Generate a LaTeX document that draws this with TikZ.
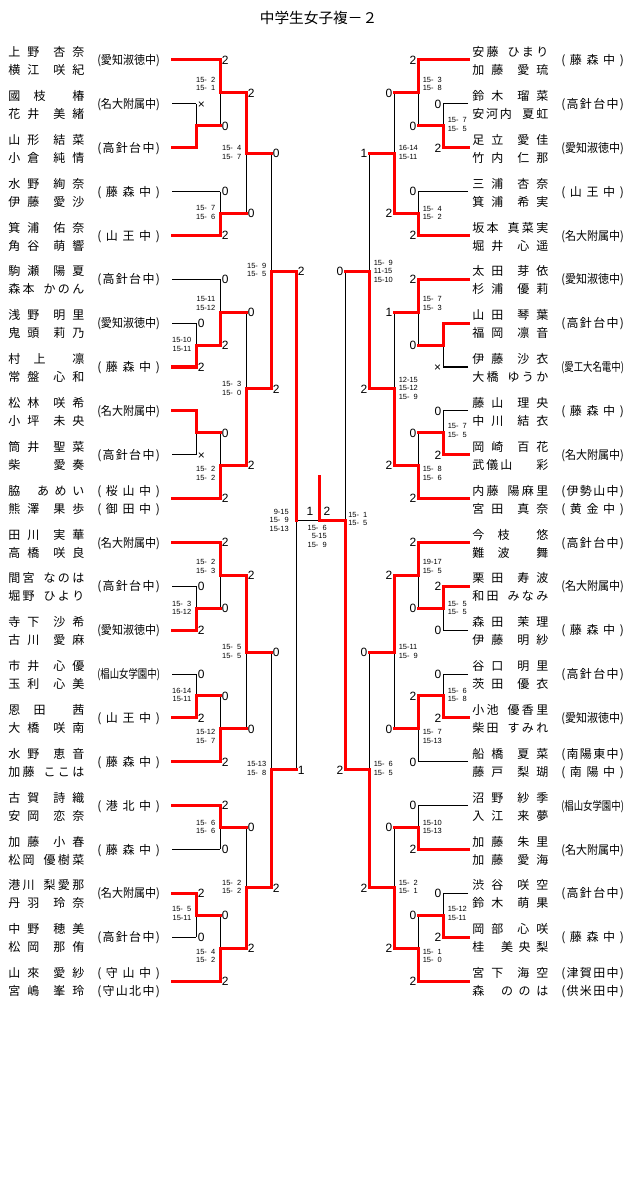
\documentclass[tikz,border=0pt]{standalone}
\usepackage{fontspec}
\usepackage{graphicx}
\setmainfont{Liberation Sans}
\newfontfamily\jp{Noto Sans CJK JP}
\pgfdeclarelayer{bg}
\pgfsetlayers{bg,main}
\newcommand\jg{\hfil}
\newcommand\z{\hphantom{0}}
\newcounter{nc}
\newcommand\schL[1]{\resizebox{47pt}{\height}{(#1)}}
\newcommand\schS[1]{\makebox[47pt][s]{(\hfil #1\hfil)}}
\newcommand\schAI{\schL{愛知淑徳中}}
\newcommand\schMD{\schL{名大附属中}}
\newcommand\schSG{\schL{椙山女学園中}}
\newcommand\schKH{\schS{高\jg 針\jg 台\jg 中}}
\newcommand\schFM{\schS{藤\jg 森\jg 中}}
\newcommand\schSN{\schS{山\jg 王\jg 中}}
% match: x, y1, y2, xnext, winner (1 top, 2 bottom)
\newcommand\mt[5]{%
  \begin{pgfonlayer}{bg}\draw[lose] (#1,#2) -- (#1,#3);\end{pgfonlayer}%
  \pgfmathsetmacro\ym{(#2+#3)/2}%
  \ifnum#5=1 \draw[win] (#1,#2) -- (#1,\ym) -- (#4,\ym);\else\draw[win] (#1,#3) -- (#1,\ym) -- (#4,\ym);\fi}
\newcommand\tw[3]{\draw[win] (#1,#3) -- (#2,#3);}
\newcommand\tb[3]{\begin{pgfonlayer}{bg}\draw[lose] (#1,#3) -- (#2,#3);\end{pgfonlayer}}
\newcommand\LL[3]{\stepcounter{nc}\node[big,anchor=base west] (g\thenc) at (#1+1.5,#2+4.3) {#3};}
\newcommand\RL[3]{\stepcounter{nc}\node[big,anchor=base east] (g\thenc) at (#1-1.5,#2+4.3) {#3};}
\newcommand\LS[3]{\stepcounter{nc}\node[scl] (g\thenc) at (#1-4.5,#2) {#3};}
\newcommand\RS[3]{\stepcounter{nc}\node[scr] (g\thenc) at (#1+4.5,#2) {#3};}
\newcommand\team[6]{\stepcounter{nc}%
  \node[nm,anchor=base west] (p\thenc a) at (#1,#3-3.4) {\makebox[57pt][s]{#4}};%
  \node[nm,anchor=base west] (p\thenc b) at (#1,#3+14.6) {\makebox[57pt][s]{#5}};%
  \node[nm,anchor=base west] (p\thenc s) at (#2,#3+4.6) {#6};}
\newcommand\teamtwo[7]{\stepcounter{nc}%
  \node[nm,anchor=base west] (p\thenc a) at (#1,#3-3.4) {\makebox[57pt][s]{#4}};%
  \node[nm,anchor=base west] (p\thenc b) at (#1,#3+14.6) {\makebox[57pt][s]{#5}};%
  \node[nm,anchor=base west] (p\thenc s) at (#2,#3-3.4) {#6};%
  \node[nm,anchor=base west] (p\thenc t) at (#2,#3+14.6) {#7};}
\begin{document}
\begin{tikzpicture}[x=0.75pt,y=-0.75pt,
  win/.style={draw=red,line width=2.25pt,line cap=rect,line join=miter},
  lose/.style={draw=black,line width=0.75pt},
  nm/.style={font=\jp\fontsize{9}{9}\selectfont,inner sep=0pt},
  big/.style={font=\fontsize{9}{9}\selectfont,inner sep=0pt},
  scl/.style={font=\fontsize{5.6}{6.4}\selectfont,inner sep=0pt,align=right,anchor=east},
  scr/.style={font=\fontsize{5.6}{6.4}\selectfont,inner sep=0pt,align=left,anchor=west}]
\begin{pgfonlayer}{bg}
\fill[white] (0,0) rectangle (640,1201);
\end{pgfonlayer}
\useasboundingbox (0,0) rectangle (640,1201);

\node[font=\jp\fontsize{11}{11}\selectfont,inner sep=0pt] (title) at (318.5,18) {中学生女子複－２};

% ---------------- LEFT TEAMS ----------------
\team{8}{97}{60}{上\jg 野\jg\jg 杏\jg 奈}{横\jg 江\jg\jg 咲\jg 紀}{\schAI}
\team{8}{97}{103.86}{國\jg 枝\jg\jg 椿}{花\jg 井\jg\jg 美\jg 緒}{\schMD}
\team{8}{97}{147.71}{山\jg 形\jg\jg 結\jg 菜}{小\jg 倉\jg\jg 純\jg 情}{\schKH}
\team{8}{97}{191.57}{水\jg 野\jg\jg 絢\jg 奈}{伊\jg 藤\jg\jg 愛\jg 沙}{\schFM}
\team{8}{97}{235.43}{箕\jg 浦\jg\jg 佑\jg 奈}{角\jg 谷\jg\jg 萌\jg 響}{\schSN}
\team{8}{97}{279.29}{駒\jg 瀬\jg\jg 陽\jg 夏}{森\jg 本\jg\jg\jg\jg か\jg の\jg ん}{\schKH}
\team{8}{97}{323.14}{浅\jg 野\jg\jg 明\jg 里}{鬼\jg 頭\jg\jg 莉\jg 乃}{\schAI}
\team{8}{97}{367}{村\jg 上\jg\jg 凛}{常\jg 盤\jg\jg 心\jg 和}{\schFM}
\team{8}{97}{410.86}{松\jg 林\jg\jg 咲\jg 希}{小\jg 坪\jg\jg 未\jg 央}{\schMD}
\team{8}{97}{454.71}{筒\jg 井\jg\jg 聖\jg 菜}{柴\jg\jg\jg\jg\jg 愛\jg 奏}{\schKH}
\teamtwo{8}{97}{498.57}{脇\jg\jg\jg あ\jg め\jg い}{熊\jg 澤\jg\jg 果\jg 歩}{\schS{桜\jg 山\jg 中}}{\schS{御\jg 田\jg 中}}
\team{8}{97}{542.43}{田\jg 川\jg\jg 実\jg 華}{高\jg 橋\jg\jg 咲\jg 良}{\schMD}
\team{8}{97}{586.29}{間\jg 宮\jg\jg\jg\jg な\jg の\jg は}{堀\jg 野\jg\jg\jg\jg ひ\jg よ\jg り}{\schKH}
\team{8}{97}{630.14}{寺\jg 下\jg\jg 沙\jg 希}{古\jg 川\jg\jg 愛\jg 麻}{\schAI}
\team{8}{97}{674}{市\jg 井\jg\jg 心\jg 優}{玉\jg 利\jg\jg 心\jg 美}{\schSG}
\team{8}{97}{717.86}{恩\jg 田\jg\jg 茜}{大\jg 橋\jg\jg 咲\jg 南}{\schSN}
\team{8}{97}{761.71}{水\jg 野\jg\jg 恵\jg 音}{加\jg 藤\jg\jg\jg\jg こ\jg こ\jg は}{\schFM}
\team{8}{97}{805.57}{古\jg 賀\jg\jg 詩\jg 織}{安\jg 岡\jg\jg 恋\jg 奈}{\schS{港\jg 北\jg 中}}
\team{8}{97}{849.43}{加\jg 藤\jg\jg 小\jg 春}{松\jg 岡\jg\jg\jg\jg 優\jg 樹\jg 菜}{\schFM}
\team{8}{97}{893.29}{港\jg 川\jg\jg\jg\jg 梨\jg 愛\jg 那}{丹\jg 羽\jg\jg 玲\jg 奈}{\schMD}
\team{8}{97}{937.14}{中\jg 野\jg\jg 穂\jg 美}{松\jg 岡\jg\jg 那\jg 侑}{\schKH}
\teamtwo{8}{97}{981}{山\jg 來\jg\jg 愛\jg 紗}{宮\jg 嶋\jg\jg 峯\jg 玲}{\schS{守\jg 山\jg 中}}{\schS{守\jg 山\jg 北\jg 中}}

% ---------------- RIGHT TEAMS ----------------
\team{472}{561}{60}{安\jg 藤\jg\jg\jg\jg ひ\jg ま\jg り}{加\jg 藤\jg\jg 愛\jg 琉}{\schFM}
\team{472}{561}{103.86}{鈴\jg 木\jg\jg 瑠\jg 菜}{安\jg 河\jg 内\jg\jg\jg\jg\jg\jg 夏\jg 虹}{\schKH}
\team{472}{561}{147.71}{足\jg 立\jg\jg 愛\jg 佳}{竹\jg 内\jg\jg 仁\jg 那}{\schAI}
\team{472}{561}{191.57}{三\jg 浦\jg\jg 杏\jg 奈}{箕\jg 浦\jg\jg 希\jg 実}{\schSN}
\team{472}{561}{235.43}{坂\jg 本\jg\jg\jg\jg 真\jg 菜\jg 実}{堀\jg 井\jg\jg 心\jg 遥}{\schMD}
\team{472}{561}{279.29}{太\jg 田\jg\jg 芽\jg 依}{杉\jg 浦\jg\jg 優\jg 莉}{\schAI}
\team{472}{561}{323.14}{山\jg 田\jg\jg 琴\jg 葉}{福\jg 岡\jg\jg 凛\jg 音}{\schKH}
\team{472}{561}{367}{伊\jg 藤\jg\jg 沙\jg 衣}{大\jg 橋\jg\jg\jg\jg ゆ\jg う\jg か}{\schL{愛工大名電中}}
\team{472}{561}{410.86}{藤\jg 山\jg\jg 理\jg 央}{中\jg 川\jg\jg 結\jg 衣}{\schFM}
\team{472}{561}{454.71}{岡\jg 崎\jg\jg 百\jg 花}{武\jg 儀\jg 山\hskip 0pt plus 12fil 彩}{\schMD}
\teamtwo{472}{561}{498.57}{内\jg 藤\jg\jg\jg\jg 陽\jg 麻\jg 里}{宮\jg 田\jg\jg 真\jg 奈}{\schS{伊\jg 勢\jg 山\jg 中}}{\schS{黄\jg 金\jg 中}}
\team{472}{561}{542.43}{今\jg 枝\jg\jg 悠}{難\jg 波\jg\jg 舞}{\schKH}
\team{472}{561}{586.29}{栗\jg 田\jg\jg 寿\jg 波}{和\jg 田\jg\jg\jg\jg み\jg な\jg み}{\schMD}
\team{472}{561}{630.14}{森\jg 田\jg\jg 茉\jg 理}{伊\jg 藤\jg\jg 明\jg 紗}{\schFM}
\team{472}{561}{674}{谷\jg 口\jg\jg 明\jg 里}{茨\jg 田\jg\jg 優\jg 衣}{\schKH}
\team{472}{561}{717.86}{小\jg 池\jg\jg\jg\jg 優\jg 香\jg 里}{柴\jg 田\jg\jg\jg\jg す\jg み\jg れ}{\schAI}
\teamtwo{472}{561}{761.71}{船\jg 橋\jg\jg 夏\jg 菜}{藤\jg 戸\jg\jg 梨\jg 瑚}{\schS{南\jg 陽\jg 東\jg 中}}{\schS{南\jg 陽\jg 中}}
\team{472}{561}{805.57}{沼\jg 野\jg\jg 紗\jg 季}{入\jg 江\jg\jg 来\jg 夢}{\schSG}
\team{472}{561}{849.43}{加\jg 藤\jg\jg 朱\jg 里}{加\jg 藤\jg\jg 愛\jg 海}{\schMD}
\team{472}{561}{893.29}{渋\jg 谷\jg\jg 咲\jg 空}{鈴\jg 木\jg\jg 萌\jg 果}{\schKH}
\team{472}{561}{937.14}{岡\jg 部\jg\jg 心\jg 咲}{桂\jg\jg\jg 美\jg 央\jg 梨}{\schFM}
\teamtwo{472}{561}{981}{宮\jg 下\jg\jg 海\jg 空}{森\jg\jg\jg の\jg の\jg は}{\schS{津\jg 賀\jg 田\jg 中}}{\schS{供\jg 米\jg 田\jg 中}}

% ---------------- LEFT LINES ----------------
\tw{172}{220}{60}      \tb{172}{196}{103.86} \tw{172}{196}{147.71}
\tb{172}{220}{191.57}  \tw{172}{220}{235.43} \tb{172}{220}{279.29}
\tb{172}{196}{323.14}  \tw{172}{196}{367}    \tw{172}{196}{410.86}
\tb{172}{196}{454.71}  \tw{172}{220}{498.57} \tw{172}{220}{542.43}
\tb{172}{196}{586.29}  \tw{172}{196}{630.14} \tb{172}{196}{674}
\tw{172}{196}{717.86}  \tw{172}{220}{761.71} \tw{172}{220}{805.57}
\tb{172}{220}{849.43}  \tw{172}{196}{893.29} \tb{172}{196}{937.14}
\tw{172}{220}{981}

\mt{196}{103.86}{147.71}{220}{2}
\mt{196}{323.14}{367}{220}{2}
\mt{196}{410.86}{454.71}{220}{1}
\mt{196}{586.29}{630.14}{220}{2}
\mt{196}{674}{717.86}{220}{2}
\mt{196}{893.29}{937.14}{220}{1}
\mt{220}{60}{125.79}{246}{1}
\mt{220}{191.57}{235.43}{246}{2}
\mt{220}{279.29}{345.07}{246}{2}
\mt{220}{432.79}{498.57}{246}{2}
\mt{220}{542.43}{608.21}{246}{1}
\mt{220}{695.93}{761.71}{246}{2}
\mt{220}{805.57}{849.43}{246}{1}
\mt{220}{915.21}{981}{246}{2}
\mt{246}{92.89}{213.5}{271}{1}
\mt{246}{312.18}{465.68}{271}{2}
\mt{246}{575.32}{728.82}{271}{1}
\mt{246}{827.5}{948.11}{271}{2}
\mt{271}{153.19}{388.93}{296}{2}
\mt{271}{652.07}{887.8}{296}{2}

% ---------------- RIGHT LINES ----------------
\tw{468}{418}{60}      \tb{468}{443}{103.86} \tw{468}{443}{147.71}
\tb{468}{418}{191.57}  \tw{468}{418}{235.43} \tw{468}{418}{279.29}
\tw{468}{443}{323.14}  \tb{468}{443}{367}    \tb{468}{443}{410.86}
\tw{468}{443}{454.71}  \tw{468}{418}{498.57} \tw{468}{418}{542.43}
\tw{468}{443}{586.29}  \tb{468}{443}{630.14} \tb{468}{443}{674}
\tw{468}{443}{717.86}  \tb{468}{418}{761.71} \tb{468}{418}{805.57}
\tw{468}{418}{849.43}  \tb{468}{443}{893.29} \tw{468}{443}{937.14}
\tw{468}{418}{981}

\mt{443}{103.86}{147.71}{418}{2}
\mt{443}{323.14}{367}{418}{1}
\mt{443}{410.86}{454.71}{418}{2}
\mt{443}{586.29}{630.14}{418}{1}
\mt{443}{674}{717.86}{418}{2}
\mt{443}{893.29}{937.14}{418}{2}
\mt{418}{60}{125.79}{394}{1}
\mt{418}{191.57}{235.43}{394}{2}
\mt{418}{279.29}{345.07}{394}{1}
\mt{418}{432.79}{498.57}{394}{2}
\mt{418}{542.43}{608.21}{394}{1}
\mt{418}{695.93}{761.71}{394}{1}
\mt{418}{805.57}{849.43}{394}{2}
\mt{418}{915.21}{981}{394}{2}
\mt{394}{92.89}{213.5}{369}{2}
\mt{394}{312.18}{465.68}{369}{2}
\mt{394}{575.32}{728.82}{369}{1}
\mt{394}{827.5}{948.11}{369}{2}
\mt{369}{153.19}{388.93}{345}{2}
\mt{369}{652.07}{887.8}{345}{2}

% ---------------- CENTRE ----------------
\begin{pgfonlayer}{bg}
\draw[lose] (296,271.06) -- (296,769.94);
\draw[lose] (345,271.06) -- (345,769.94);
\draw[lose] (296,520.5) -- (345,520.5);
\end{pgfonlayer}
\draw[win] (296,271.06) -- (296,520.5);
\draw[win] (345,769.94) -- (345,520.5) -- (319,520.5) -- (319,476);
\node[big,anchor=base] (f1) at (310,515.3) {1};
\node[big,anchor=base] (f2) at (327,515.3) {2};
\node[scl] (fs) at (327,536) {15-\z6\\5-15\\15-\z9};

% ---------------- LEFT LABELS ----------------
\LL{220}{60}{2} \LL{196}{103.86}{×} \LL{220}{125.79}{0}
\LL{220}{191.57}{0} \LL{220}{235.43}{2} \LL{246}{92.89}{2} \LL{246}{213.5}{0}
\LL{271}{153.19}{0}
\LL{220}{279.29}{0} \LL{196}{323.14}{0} \LL{196}{367}{2} \LL{220}{345.07}{2}
\LL{246}{312.18}{0} \LL{220}{432.79}{0} \LL{196}{454.71}{×} \LL{220}{498.57}{2}
\LL{246}{465.68}{2} \LL{271}{388.93}{2} \LL{296}{271.06}{2}
\LL{220}{542.43}{2} \LL{196}{586.29}{0} \LL{196}{630.14}{2} \LL{220}{608.21}{0}
\LL{246}{575.32}{2} \LL{196}{674}{0} \LL{196}{717.86}{2} \LL{220}{695.93}{0}
\LL{220}{761.71}{2} \LL{246}{728.82}{0} \LL{271}{652.07}{0}
\LL{220}{805.57}{2} \LL{220}{849.43}{0} \LL{246}{827.5}{0} \LL{196}{893.29}{2}
\LL{196}{937.14}{0} \LL{220}{915.21}{0} \LL{220}{981}{2} \LL{246}{948.11}{2}
\LL{271}{887.8}{2} \LL{296}{769.94}{1}

% ---------------- RIGHT LABELS ----------------
\RL{418}{60}{2} \RL{443}{103.86}{0} \RL{443}{147.71}{2} \RL{418}{125.79}{0}
\RL{394}{92.89}{0} \RL{418}{191.57}{0} \RL{418}{235.43}{2} \RL{394}{213.5}{2}
\RL{369}{153.19}{1}
\RL{418}{279.29}{2} \RL{443}{367}{×} \RL{418}{345.07}{0} \RL{394}{312.18}{1}
\RL{443}{410.86}{0} \RL{443}{454.71}{2} \RL{418}{432.79}{0} \RL{418}{498.57}{2}
\RL{394}{465.68}{2} \RL{369}{388.93}{2} \RL{345}{271.06}{0}
\RL{418}{542.43}{2} \RL{443}{586.29}{2} \RL{443}{630.14}{0} \RL{418}{608.21}{0}
\RL{394}{575.32}{2} \RL{443}{674}{0} \RL{443}{717.86}{2} \RL{418}{695.93}{2}
\RL{418}{761.71}{0} \RL{394}{728.82}{0} \RL{369}{652.07}{0}
\RL{418}{805.57}{0} \RL{418}{849.43}{2} \RL{394}{827.5}{0} \RL{443}{893.29}{0}
\RL{443}{937.14}{2} \RL{418}{915.21}{0} \RL{418}{981}{2} \RL{394}{948.11}{2}
\RL{369}{887.8}{2} \RL{345}{769.94}{2}

% ---------------- LEFT GAME SCORES ----------------
\LS{220}{84}{15-\z2\\15-\z1}
\LS{246}{152.5}{15-\z4\\15-\z7}
\LS{220}{212.5}{15-\z7\\15-\z6}
\LS{271}{270}{15-\z9\\15-\z5}
\LS{220}{303.5}{15-11\\15-12}
\LS{196}{344.5}{15-10\\15-11}
\LS{246}{388.5}{15-\z3\\15-\z0}
\LS{220}{473.5}{15-\z2\\15-\z2}
\LS{293.5}{520}{9-15\\15-\z9\\15-13}
\LS{220}{566.5}{15-\z2\\15-\z3}
\LS{196}{608}{15-\z3\\15-12}
\LS{246}{651.5}{15-\z5\\15-\z5}
\LS{196}{695}{16-14\\15-11}
\LS{220}{736.5}{15-12\\15-\z7}
\LS{271}{768.5}{15-13\\15-\z8}
\LS{220}{827}{15-\z6\\15-\z6}
\LS{246}{887}{15-\z2\\15-\z2}
\LS{196}{913.5}{15-\z5\\15-11}
\LS{220}{956}{15-\z4\\15-\z2}

% ---------------- RIGHT GAME SCORES ----------------
\RS{418}{84}{15-\z3\\15-\z8}
\RS{443}{124.5}{15-\z7\\15-\z5}
\RS{394}{152.5}{16-14\\15-11}
\RS{418}{213}{15-\z4\\15-\z2}
\RS{369}{271}{15-\z9\\11-15\\15-10}
\RS{418}{303.5}{15-\z7\\15-\z3}
\RS{394}{388}{12-15\\15-12\\15-\z9}
\RS{443}{430.5}{15-\z7\\15-\z5}
\RS{418}{473.5}{15-\z8\\15-\z6}
\RS{343.5}{519}{15-\z1\\15-\z5}
\RS{418}{566.5}{19-17\\15-\z5}
\RS{443}{608}{15-\z5\\15-\z5}
\RS{394}{651.5}{15-11\\15-\z9}
\RS{443}{695}{15-\z6\\15-\z8}
\RS{418}{736.5}{15-\z7\\15-13}
\RS{369}{768.5}{15-\z6\\15-\z5}
\RS{418}{827}{15-10\\15-13}
\RS{394}{887}{15-\z2\\15-\z1}
\RS{443}{913.5}{15-12\\15-11}
\RS{418}{956}{15-\z1\\15-\z0}
\end{tikzpicture}
\end{document}
